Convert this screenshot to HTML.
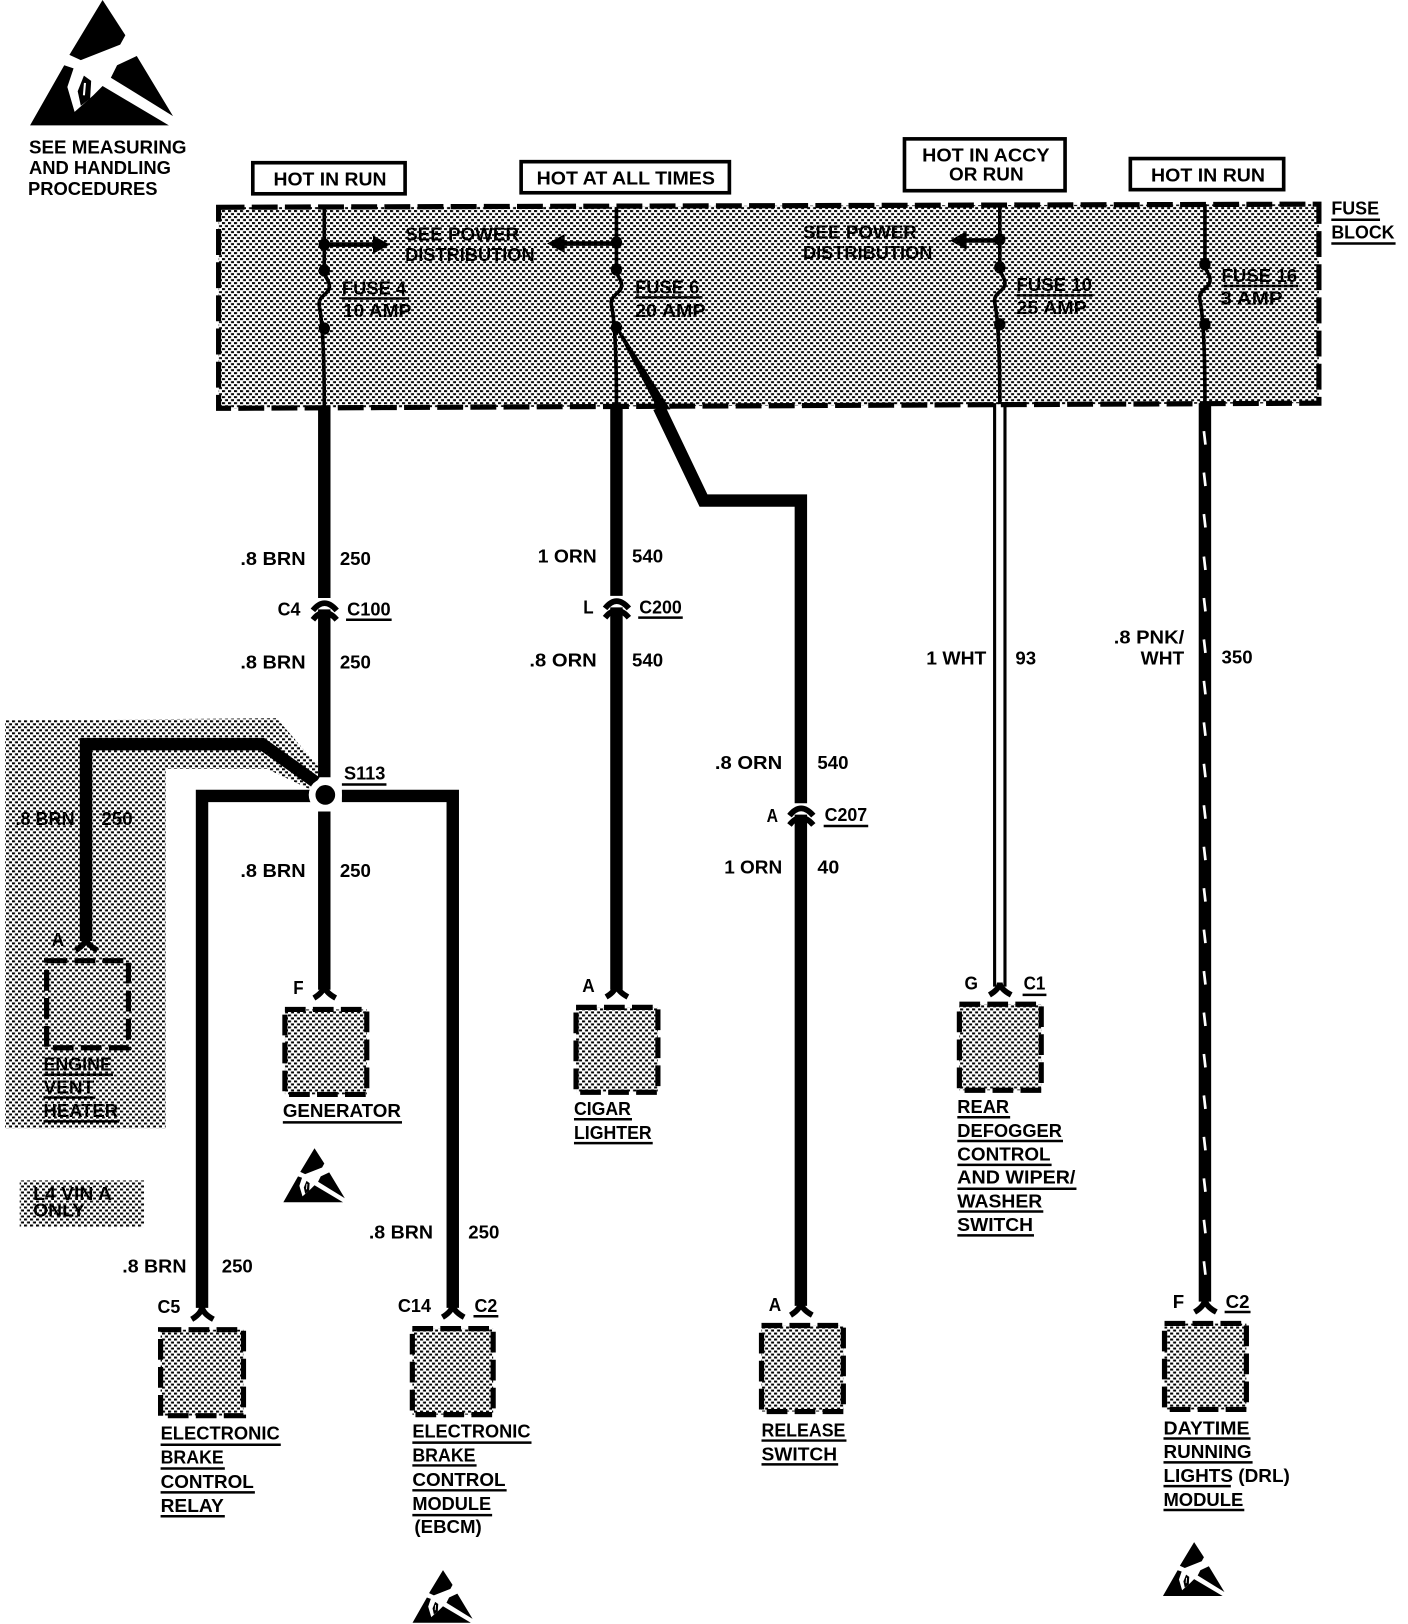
<!DOCTYPE html>
<html>
<head>
<meta charset="utf-8">
<title>Wiring diagram</title>
<style>
html,body{margin:0;padding:0;background:#fff}
svg{display:block}
text{font-family:"Liberation Sans",sans-serif;font-weight:bold;font-size:18px;fill:#000}
.w{stroke:#000;fill:none;stroke-linejoin:miter;stroke-linecap:butt}
.ul{stroke:#000;stroke-width:2.4}
</style>
</head>
<body>
<svg xmlns="http://www.w3.org/2000/svg" width="1408" height="1624" viewBox="0 0 1359 1567" preserveAspectRatio="none">
<defs>
<pattern id="h" patternUnits="userSpaceOnUse" width="6" height="6" patternTransform="scale(0.9653)">
<rect width="6" height="6" fill="#fff"/>
<rect x="0" y="0" width="3" height="2" fill="#000"/>
<rect x="3" y="3" width="3" height="2" fill="#000"/>
</pattern>
<g id="esd">
<polygon points="99,0 121,34 116,43 78,58 67,53"/>
<polygon points="29,121 62,63 71,66 65,84 72,108 90,92 99,83 163,121"/>
<polygon points="132,54 167,112 107,75 113,63"/>
<polygon points="81,73 88,78 87,95 78,102 75,88"/>
<path d="M82 80 L81 92" stroke="#fff" stroke-width="2" fill="none"/>
</g>
</defs>
<rect width="1359" height="1567" fill="#fff"/>

<!-- hatched regions -->
<polygon points="5,695 267,693 312,745 300,762 258,742 160,742 160,1089 5,1089" fill="url(#h)"/>
<rect x="19" y="1139" width="120" height="45" fill="url(#h)"/>
<polygon points="211,200 1273,197 1273,389 211,394" fill="url(#h)"/>
<polygon points="211,200 1273,197 1273,389 211,394" fill="none" stroke="#000" stroke-width="5" stroke-dasharray="25 7"/>

<!-- ESD symbols -->
<use href="#esd"/>
<use href="#esd" transform="translate(261,1108) scale(.43)"/>
<use href="#esd" transform="translate(386,1515) scale(.42)"/>
<use href="#esd" transform="translate(1110,1488) scale(.43)"/>

<text x="28" y="148" textLength="152" lengthAdjust="spacingAndGlyphs">SEE  MEASURING</text>
<text x="28" y="168" textLength="137" lengthAdjust="spacingAndGlyphs">AND HANDLING</text>
<text x="27" y="188" textLength="125" lengthAdjust="spacingAndGlyphs">PROCEDURES</text>

<!-- header boxes -->
<g fill="#fff" stroke="#000" stroke-width="3.5">
<rect x="244" y="157" width="147" height="30"/>
<rect x="503" y="156" width="201" height="30"/>
<rect x="873" y="134" width="155" height="50"/>
<rect x="1091" y="153" width="148" height="30"/>
</g>
<text x="264" y="179" textLength="109" lengthAdjust="spacingAndGlyphs">HOT IN RUN</text>
<text x="518" y="178" textLength="172" lengthAdjust="spacingAndGlyphs">HOT AT ALL TIMES</text>
<text x="890" y="156" textLength="123" lengthAdjust="spacingAndGlyphs">HOT IN ACCY</text>
<text x="916" y="174" textLength="72" lengthAdjust="spacingAndGlyphs">OR RUN</text>
<text x="1111" y="175" textLength="110" lengthAdjust="spacingAndGlyphs">HOT IN RUN</text>

<text x="1285" y="207" textLength="46" lengthAdjust="spacingAndGlyphs">FUSE</text>
<line class="ul" x1="1285" y1="212" x2="1332" y2="212"/>
<text x="1285" y="230" textLength="61" lengthAdjust="spacingAndGlyphs">BLOCK</text>
<line class="ul" x1="1285" y1="235" x2="1347" y2="235"/>

<!-- fuse block wiring -->
<g class="w" stroke-width="3.5">
<path d="M313 200V261C313 268 318 270 318 276C318 284 308 285 308 293C308 300 313 302 313 394"/>
<path d="M595 200V260C595 267 600 269 600 275C600 283 590 284 590 292C590 299 595 301 595 392"/>
<path d="M965 198V258C965 265 970 267 970 273C970 281 960 282 960 290C960 297 965 299 965 390"/>
<path d="M1163 197V255C1163 262 1168 264 1168 270C1168 278 1158 279 1158 287C1158 294 1163 296 1163 389"/>
<path d="M313 236H362" stroke-width="4.5"/>
<path d="M595 235H543" stroke-width="4.5"/>
<path d="M965 232H931" stroke-width="4.5"/>
</g>
<polygon points="360,227 376,236 360,245"/>
<polygon points="545,226 528,235 545,244"/>
<polygon points="933,223 917,232 933,241"/>
<g>
<ellipse cx="313" cy="236" rx="5.5" ry="6"/><ellipse cx="313" cy="261" rx="5.5" ry="6"/><ellipse cx="313" cy="317" rx="5.5" ry="6"/>
<ellipse cx="595" cy="234" rx="5.5" ry="6"/><ellipse cx="595" cy="260" rx="5.5" ry="6"/><ellipse cx="595" cy="316" rx="5.5" ry="6"/>
<ellipse cx="965" cy="231" rx="5.5" ry="6"/><ellipse cx="965" cy="258" rx="5.5" ry="6"/><ellipse cx="965" cy="313" rx="5.5" ry="6"/>
<ellipse cx="1163" cy="255" rx="5.5" ry="6"/><ellipse cx="1163" cy="313" rx="5.5" ry="6"/>
</g>
<polygon points="594,316 597,316 647,395 635,395"/>

<text x="391" y="232" textLength="110" lengthAdjust="spacingAndGlyphs">SEE POWER</text>
<text x="391" y="252" textLength="125" lengthAdjust="spacingAndGlyphs">DISTRIBUTION</text>
<text x="775" y="230" textLength="110" lengthAdjust="spacingAndGlyphs">SEE POWER</text>
<text x="775" y="250" textLength="125" lengthAdjust="spacingAndGlyphs">DISTRIBUTION</text>
<text x="330" y="284" textLength="62" lengthAdjust="spacingAndGlyphs">FUSE 4</text>
<line class="ul" x1="330" y1="288" x2="395" y2="288"/>
<text x="331" y="306" textLength="66" lengthAdjust="spacingAndGlyphs">10 AMP</text>
<text x="613" y="283" textLength="62" lengthAdjust="spacingAndGlyphs">FUSE 6</text>
<line class="ul" x1="613" y1="287" x2="678" y2="287"/>
<text x="613" y="306" textLength="68" lengthAdjust="spacingAndGlyphs">20 AMP</text>
<text x="981" y="281" textLength="73" lengthAdjust="spacingAndGlyphs">FUSE 10</text>
<line class="ul" x1="981" y1="285" x2="1055" y2="285"/>
<text x="981" y="303" textLength="68" lengthAdjust="spacingAndGlyphs">25 AMP</text>
<text x="1179" y="272" textLength="73" lengthAdjust="spacingAndGlyphs">FUSE 16</text>
<line class="ul" x1="1179" y1="276" x2="1253" y2="276"/>
<text x="1178" y="294" textLength="60" lengthAdjust="spacingAndGlyphs">3 AMP</text>

<!-- thick wires -->
<g class="w" stroke-width="12">
<path d="M313 393V577M313 588V750"/>
<path d="M305 755L253 718H83V908"/>
<path d="M300 768H195V1262"/>
<path d="M330 768H437V1262"/>
<path d="M313 783V955"/>
<path d="M595 391V575M595 586V955"/>
<path d="M636 393L679 483H773V775M773 786V1260"/>
<path d="M1163 389V1256"/>
</g>
<path class="w" stroke-width="3" d="M960 389V952M970 389V952"/>

<!-- tracer -->
<g stroke="#fff" stroke-width="2.6" fill="none">
<path d="M1162 416l1.5 13M1162 456l1.5 13M1162 496l1.5 13M1162 537l1.5 13M1162 577l1.5 13M1162 617l1.5 13M1162 657l1.5 13M1162 697l1.5 13M1162 737l1.5 13M1162 777l1.5 13M1162 817l1.5 13M1162 857l1.5 13M1162 897l1.5 13M1162 937l1.5 13M1162 977l1.5 13M1162 1017l1.5 13M1162 1057l1.5 13M1162 1097l1.5 13M1162 1137l1.5 13M1162 1177l1.5 13M1162 1217l1.5 13"/>
</g>

<!-- splice -->
<circle cx="314" cy="767" r="16" fill="#fff"/>
<circle cx="314" cy="767" r="9.5"/>
<text x="332" y="752" textLength="40" lengthAdjust="spacingAndGlyphs">S113</text>
<line class="ul" x1="330" y1="757" x2="373" y2="757"/>

<!-- inline connectors -->
<g class="w" stroke-width="5.5">
<path d="M302 589Q313 575 325 589M302 598Q313 584 325 598"/>
<path d="M584 587Q595 573 607 587M584 596Q595 582 607 596"/>
<path d="M762 787Q773 773 785 787M762 796Q773 782 785 796"/>
</g>

<!-- end arches -->
<g class="w" stroke-width="5.5">
<path d="M73 917Q83 911 83 905Q83 911 94 917"/>
<path d="M303 963Q313 957 313 950Q313 957 324 963"/>
<path d="M585 962Q595 956 595 949Q595 956 606 962"/>
<path d="M955 960Q965 954 965 948Q965 954 976 960"/>
<path d="M185 1273Q195 1267 195 1260Q195 1267 206 1273"/>
<path d="M427 1271Q437 1265 437 1258Q437 1265 448 1271"/>
<path d="M763 1269Q773 1263 773 1256Q773 1263 784 1269"/>
<path d="M1153 1266Q1163 1260 1163 1253Q1163 1260 1174 1266"/>
</g>

<!-- component boxes -->
<g fill="url(#h)" stroke="#000" stroke-width="5" stroke-dasharray="20 7">
<rect x="45" y="927" width="79" height="84"/>
<rect x="275" y="974" width="79" height="82"/>
<rect x="556" y="972" width="79" height="82"/>
<rect x="926" y="969" width="79" height="83"/>
<rect x="155" y="1283" width="80" height="83"/>
<rect x="398" y="1282" width="78" height="83"/>
<rect x="735" y="1279" width="79" height="83"/>
<rect x="1124" y="1277" width="79" height="83"/>
</g>

<!-- wire labels -->
<text x="232" y="545" textLength="63" lengthAdjust="spacingAndGlyphs">.8 BRN</text>
<text x="328" y="545" textLength="30" lengthAdjust="spacingAndGlyphs">250</text>
<text x="268" y="594" textLength="22" lengthAdjust="spacingAndGlyphs">C4</text>
<text x="335" y="594" textLength="42" lengthAdjust="spacingAndGlyphs">C100</text>
<line class="ul" x1="334" y1="598" x2="378" y2="598"/>
<text x="232" y="645" textLength="63" lengthAdjust="spacingAndGlyphs">.8 BRN</text>
<text x="328" y="645" textLength="30" lengthAdjust="spacingAndGlyphs">250</text>
<text x="519" y="543" textLength="57" lengthAdjust="spacingAndGlyphs">1 ORN</text>
<text x="610" y="543" textLength="30" lengthAdjust="spacingAndGlyphs">540</text>
<text x="563" y="592" textLength="10" lengthAdjust="spacingAndGlyphs">L</text>
<text x="617" y="592" textLength="41" lengthAdjust="spacingAndGlyphs">C200</text>
<line class="ul" x1="616" y1="596" x2="659" y2="596"/>
<text x="511" y="643" textLength="65" lengthAdjust="spacingAndGlyphs">.8 ORN</text>
<text x="610" y="643" textLength="30" lengthAdjust="spacingAndGlyphs">540</text>
<text x="690" y="742" textLength="65" lengthAdjust="spacingAndGlyphs">.8 ORN</text>
<text x="789" y="742" textLength="30" lengthAdjust="spacingAndGlyphs">540</text>
<text x="740" y="793" textLength="11" lengthAdjust="spacingAndGlyphs">A</text>
<text x="796" y="792" textLength="41" lengthAdjust="spacingAndGlyphs">C207</text>
<line class="ul" x1="795" y1="797" x2="838" y2="797"/>
<text x="699" y="843" textLength="56" lengthAdjust="spacingAndGlyphs">1 ORN</text>
<text x="789" y="843" textLength="21" lengthAdjust="spacingAndGlyphs">40</text>
<text x="894" y="641" textLength="58" lengthAdjust="spacingAndGlyphs">1 WHT</text>
<text x="980" y="641" textLength="20" lengthAdjust="spacingAndGlyphs">93</text>
<text x="1075" y="621" textLength="68" lengthAdjust="spacingAndGlyphs">.8 PNK/</text>
<text x="1101" y="641" textLength="42" lengthAdjust="spacingAndGlyphs">WHT</text>
<text x="1179" y="640" textLength="30" lengthAdjust="spacingAndGlyphs">350</text>
<text x="15" y="796" textLength="57" lengthAdjust="spacingAndGlyphs">.8 BRN</text>
<text x="98" y="796" textLength="30" lengthAdjust="spacingAndGlyphs">250</text>
<text x="232" y="846" textLength="63" lengthAdjust="spacingAndGlyphs">.8 BRN</text>
<text x="328" y="846" textLength="30" lengthAdjust="spacingAndGlyphs">250</text>
<text x="118" y="1228" textLength="62" lengthAdjust="spacingAndGlyphs">.8 BRN</text>
<text x="214" y="1228" textLength="30" lengthAdjust="spacingAndGlyphs">250</text>
<text x="356" y="1195" textLength="62" lengthAdjust="spacingAndGlyphs">.8 BRN</text>
<text x="452" y="1195" textLength="30" lengthAdjust="spacingAndGlyphs">250</text>

<!-- connector labels -->
<text x="50" y="913" textLength="12" lengthAdjust="spacingAndGlyphs">A</text>
<text x="283" y="959" textLength="10" lengthAdjust="spacingAndGlyphs">F</text>
<text x="562" y="957" textLength="12" lengthAdjust="spacingAndGlyphs">A</text>
<text x="931" y="955" textLength="13" lengthAdjust="spacingAndGlyphs">G</text>
<text x="988" y="955" textLength="21" lengthAdjust="spacingAndGlyphs">C1</text>
<line class="ul" x1="987" y1="960" x2="1010" y2="960"/>
<text x="152" y="1267" textLength="22" lengthAdjust="spacingAndGlyphs">C5</text>
<text x="384" y="1266" textLength="32" lengthAdjust="spacingAndGlyphs">C14</text>
<text x="458" y="1266" textLength="22" lengthAdjust="spacingAndGlyphs">C2</text>
<line class="ul" x1="457" y1="1270" x2="481" y2="1270"/>
<text x="742" y="1265" textLength="12" lengthAdjust="spacingAndGlyphs">A</text>
<text x="1132" y="1262" textLength="11" lengthAdjust="spacingAndGlyphs">F</text>
<text x="1183" y="1262" textLength="23" lengthAdjust="spacingAndGlyphs">C2</text>
<line class="ul" x1="1182" y1="1266" x2="1207" y2="1266"/>

<!-- component names -->
<g transform="translate(0,-1)">
<text x="42" y="1034" textLength="66" lengthAdjust="spacingAndGlyphs">ENGINE</text>
<line class="ul" x1="42" y1="1038" x2="109" y2="1038"/>
<text x="42" y="1056" textLength="49" lengthAdjust="spacingAndGlyphs">VENT</text>
<line class="ul" x1="42" y1="1060" x2="92" y2="1060"/>
<text x="42" y="1079" textLength="72" lengthAdjust="spacingAndGlyphs">HEATER</text>
<line class="ul" x1="42" y1="1083" x2="115" y2="1083"/>
<text x="554" y="1077" textLength="55" lengthAdjust="spacingAndGlyphs">CIGAR</text>
<line class="ul" x1="554" y1="1081" x2="610" y2="1081"/>
<text x="554" y="1100" textLength="75" lengthAdjust="spacingAndGlyphs">LIGHTER</text>
<line class="ul" x1="554" y1="1104" x2="630" y2="1104"/>
<text x="735" y="1387" textLength="81" lengthAdjust="spacingAndGlyphs">RELEASE</text>
<line class="ul" x1="735" y1="1391" x2="817" y2="1391"/>
<text x="735" y="1410" textLength="73" lengthAdjust="spacingAndGlyphs">SWITCH</text>
<line class="ul" x1="735" y1="1414" x2="809" y2="1414"/>
<text x="924" y="1075" textLength="50" lengthAdjust="spacingAndGlyphs">REAR</text>
<line class="ul" x1="924" y1="1079" x2="975" y2="1079"/>
<text x="924" y="1098" textLength="101" lengthAdjust="spacingAndGlyphs">DEFOGGER</text>
<line class="ul" x1="924" y1="1102" x2="1026" y2="1102"/>
<text x="924" y="1121" textLength="90" lengthAdjust="spacingAndGlyphs">CONTROL</text>
<line class="ul" x1="924" y1="1125" x2="1015" y2="1125"/>
<text x="924" y="1143" textLength="114" lengthAdjust="spacingAndGlyphs">AND WIPER/</text>
<line class="ul" x1="924" y1="1148" x2="1039" y2="1148"/>
<text x="924" y="1166" textLength="82" lengthAdjust="spacingAndGlyphs">WASHER</text>
<line class="ul" x1="924" y1="1170" x2="1007" y2="1170"/>
<text x="924" y="1189" textLength="73" lengthAdjust="spacingAndGlyphs">SWITCH</text>
<line class="ul" x1="924" y1="1193" x2="998" y2="1193"/>
<text x="155" y="1390" textLength="115" lengthAdjust="spacingAndGlyphs">ELECTRONIC</text>
<line class="ul" x1="155" y1="1395" x2="271" y2="1395"/>
<text x="155" y="1413" textLength="61" lengthAdjust="spacingAndGlyphs">BRAKE</text>
<line class="ul" x1="155" y1="1418" x2="217" y2="1418"/>
<text x="155" y="1437" textLength="90" lengthAdjust="spacingAndGlyphs">CONTROL</text>
<line class="ul" x1="155" y1="1441" x2="246" y2="1441"/>
<text x="155" y="1460" textLength="61" lengthAdjust="spacingAndGlyphs">RELAY</text>
<line class="ul" x1="155" y1="1464" x2="217" y2="1464"/>
<text x="398" y="1388" textLength="114" lengthAdjust="spacingAndGlyphs">ELECTRONIC</text>
<line class="ul" x1="398" y1="1393" x2="513" y2="1393"/>
<text x="398" y="1411" textLength="61" lengthAdjust="spacingAndGlyphs">BRAKE</text>
<line class="ul" x1="398" y1="1415" x2="460" y2="1415"/>
<text x="398" y="1435" textLength="90" lengthAdjust="spacingAndGlyphs">CONTROL</text>
<line class="ul" x1="398" y1="1439" x2="489" y2="1439"/>
<text x="398" y="1458" textLength="76" lengthAdjust="spacingAndGlyphs">MODULE</text>
<line class="ul" x1="398" y1="1463" x2="475" y2="1463"/>
<text x="400" y="1480" textLength="65" lengthAdjust="spacingAndGlyphs">(EBCM)</text>
<text x="1123" y="1385" textLength="83" lengthAdjust="spacingAndGlyphs">DAYTIME</text>
<line class="ul" x1="1123" y1="1389" x2="1207" y2="1389"/>
<text x="1123" y="1408" textLength="85" lengthAdjust="spacingAndGlyphs">RUNNING</text>
<line class="ul" x1="1123" y1="1412" x2="1209" y2="1412"/>
<text x="1123" y="1431" textLength="122" lengthAdjust="spacingAndGlyphs">LIGHTS (DRL)</text>
<line class="ul" x1="1123" y1="1435" x2="1188" y2="1435"/>
<text x="1123" y="1454" textLength="77" lengthAdjust="spacingAndGlyphs">MODULE</text>
<line class="ul" x1="1123" y1="1458" x2="1201" y2="1458"/>
</g>
<text x="273" y="1078" textLength="114" lengthAdjust="spacingAndGlyphs">GENERATOR</text>
<line class="ul" x1="273" y1="1083" x2="388" y2="1083"/>
<text x="32" y="1158" textLength="76" lengthAdjust="spacingAndGlyphs">L4 VIN A</text>
<text x="32" y="1174" textLength="50" lengthAdjust="spacingAndGlyphs">ONLY</text>
</svg>
</body>
</html>
